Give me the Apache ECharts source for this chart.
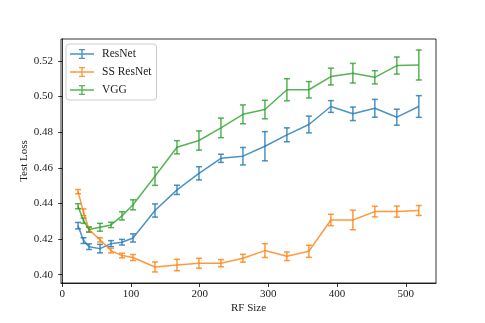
<!DOCTYPE html>
<html>
<head>
<meta charset="utf-8">
<script src="https://cdn.jsdelivr.net/npm/echarts@6/dist/echarts.min.js"></script>
<style>
  html, body { margin: 0; padding: 0; background: #fff; }
  #chart { width: 485px; height: 323px; }
</style>
</head>
<body>
<div id="chart"></div>
<script>
// RF sizes (x)
var rfSize = [23, 31, 39, 55, 71, 87, 103, 135, 167, 199, 231, 263, 295, 327, 359, 391, 423, 455, 487, 519];

// ResNet
var resnetMean = [0.4275, 0.4191, 0.4157, 0.4146, 0.4174, 0.4182, 0.4206, 0.4360, 0.4476, 0.4569,
                  0.4653, 0.4665, 0.4721, 0.4785, 0.4843, 0.4944, 0.4903, 0.4934, 0.4884, 0.4944];
var resnetErr  = [0.0018, 0.0016, 0.0016, 0.0024, 0.0017, 0.0016, 0.0023, 0.0037, 0.0026, 0.0037,
                  0.0023, 0.0049, 0.0082, 0.0039, 0.0047, 0.0033, 0.0038, 0.0050, 0.0045, 0.0061];

// SS ResNet
var ssMean = [0.4466, 0.4350, 0.4253, 0.4195, 0.4135, 0.4107, 0.4096, 0.4043, 0.4054, 0.4064,
              0.4064, 0.4092, 0.4135, 0.4103, 0.4131, 0.4307, 0.4307, 0.4354, 0.4354, 0.4360];
var ssErr  = [0.0012, 0.0019, 0.0014, 0.0012, 0.0013, 0.0013, 0.0017, 0.0028, 0.0032, 0.0028,
              0.0020, 0.0022, 0.0039, 0.0024, 0.0034, 0.0032, 0.0055, 0.0030, 0.0031, 0.0028];

// VGG
var vggMean = [0.4384, 0.4303, 0.4253, 0.4266, 0.4279, 0.4330, 0.4392, 0.4552, 0.4715, 0.4753,
               0.4824, 0.4900, 0.4927, 0.5038, 0.5038, 0.5112, 0.5131, 0.5108, 0.5174, 0.5177];
var vggErr  = [0.0014, 0.0015, 0.0014, 0.0022, 0.0015, 0.0023, 0.0028, 0.0051, 0.0037, 0.0054,
               0.0055, 0.0053, 0.0052, 0.0062, 0.0046, 0.0047, 0.0055, 0.0037, 0.0048, 0.0084];

var xTicks = [0, 100, 200, 300, 400, 500];
var yTicks = [0.40, 0.42, 0.44, 0.46, 0.48, 0.50, 0.52];

var FONT = 'Liberation Serif';
var models = [
    {name: 'ResNet',    mean: resnetMean, err: resnetErr, color: 'rgba(31,119,180,0.8)'},
    {name: 'SS ResNet', mean: ssMean,     err: ssErr,     color: 'rgba(255,127,14,0.8)'},
    {name: 'VGG',       mean: vggMean,    err: vggErr,    color: 'rgba(44,160,44,0.8)'}
];

// legend icon: line with an error bar in the middle
var ebIcon = 'path://M0,4.3h24v1.4H0z M11.3,0h1.4v10h-1.4z M9,0h6v1.3H9z M9,8.7h6v1.3H9z';

function makeErrRender(color) {
    return function (params, api) {
        var x = api.value(0), m = api.value(1), e = api.value(2);
        var top = api.coord([x, m + e]);
        var bot = api.coord([x, m - e]);
        var c = 3;
        var st = {stroke: color, lineWidth: 1.5, fill: null};
        return {
            type: 'group',
            children: [
                {type: 'line', shape: {x1: top[0], y1: top[1], x2: bot[0], y2: bot[1]}, style: st},
                {type: 'line', shape: {x1: top[0] - c, y1: top[1], x2: top[0] + c, y2: top[1]}, style: st},
                {type: 'line', shape: {x1: bot[0] - c, y1: bot[1], x2: bot[0] + c, y2: bot[1]}, style: st}
            ]
        };
    };
}

var series = [];
models.forEach(function (m) {
    var lineData = [], errData = [];
    for (var i = 0; i < rfSize.length; i++) {
        lineData.push([rfSize[i], m.mean[i]]);
        errData.push([rfSize[i], m.mean[i], m.err[i]]);
    }
    series.push({
        name: m.name,
        type: 'line',
        data: lineData,
        showSymbol: false,
        symbol: 'none',
        lineStyle: {color: m.color, width: 1.5},
        itemStyle: {color: m.color},
        emphasis: {disabled: true},
        animation: false
    });
    series.push({
        name: m.name,
        type: 'custom',
        data: errData,
        renderItem: makeErrRender(m.color),
        itemStyle: {color: m.color},
        encode: {x: 0, y: 1},
        animation: false
    });
});

var chart = echarts.init(document.getElementById('chart'));
chart.setOption({
    backgroundColor: '#fff',
    animation: false,
    textStyle: {fontFamily: FONT},
    grid: {left: 61, right: 49, top: 39, bottom: 40, show: true, borderColor: '#000', borderWidth: 0.8, containLabel: false},
    legend: {
        left: 66, top: 44,
        orient: 'vertical',
        data: models.map(function (m) { return {name: m.name, icon: ebIcon}; }),
        itemWidth: 24, itemHeight: 10, itemGap: 6,
        padding: [4, 5, 4, 4],
        backgroundColor: '#fff',
        borderColor: '#ccc', borderWidth: 1, borderRadius: 3,
        selectedMode: false,
        textStyle: {fontFamily: FONT, fontSize: 11.5, color: '#222', padding: [0, 0, 0, 3]}
    },
    xAxis: {
        type: 'value',
        min: -1.8, max: 544,
        name: 'RF Size', nameLocation: 'middle', nameGap: 20, nameMoveOverlap: false,
        nameTextStyle: {fontFamily: FONT, fontSize: 11, color: '#222'},
        axisLine: {show: true, lineStyle: {color: '#000', width: 0.8}},
        axisTick: {show: true, length: 4, lineStyle: {color: '#000', width: 0.8}, customValues: xTicks},
        axisLabel: {fontFamily: FONT, fontSize: 11, color: '#222', margin: 6, customValues: xTicks},
        splitLine: {show: false}
    },
    yAxis: {
        type: 'value',
        min: 0.3953, max: 0.5323,
        name: 'Test Loss', nameLocation: 'middle', nameGap: 31, nameRotate: 90, nameMoveOverlap: false,
        nameTextStyle: {fontFamily: FONT, fontSize: 11, color: '#222'},
        axisLine: {show: true, lineStyle: {color: '#000', width: 0.8}},
        axisTick: {show: true, length: 4, lineStyle: {color: '#000', width: 0.8}, customValues: yTicks},
        axisLabel: {fontFamily: FONT, fontSize: 11, color: '#222', margin: 8, customValues: yTicks,
            formatter: function (v) { return v.toFixed(2); }},
        splitLine: {show: false}
    },
    series: series
});
</script>
</body>
</html>
